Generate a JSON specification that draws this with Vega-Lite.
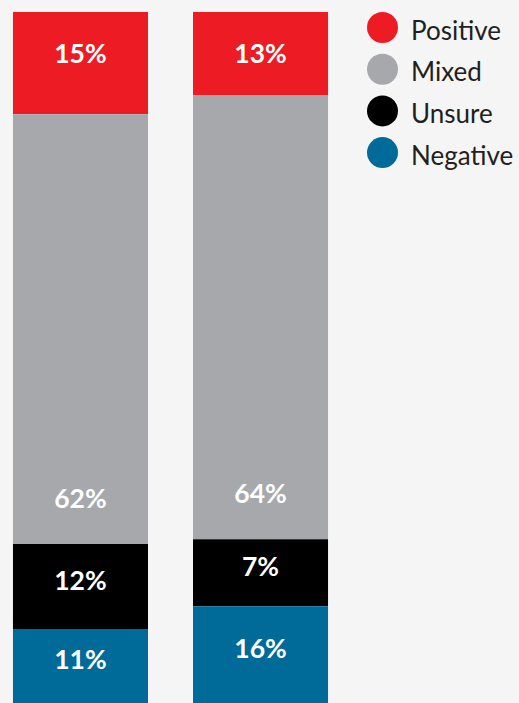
{
  "$schema": "https://vega.github.io/schema/vega-lite/v6.json",
  "autosize": {"type": "none"},
  "width": 519,
  "height": 691,
  "padding": {"top": 12, "left": 0, "right": 0, "bottom": 0},
  "background": "#f5f5f5",
  "config": {"view": {"stroke": null}, "font": "Lato"},
  "data": {
    "values": [
      {"group": "A", "type": "Positive", "value": 14.8, "label": "15%"},
      {"group": "A", "type": "Mixed", "value": 62.2, "label": "62%"},
      {"group": "A", "type": "Unsure", "value": 12.3, "label": "12%"},
      {"group": "A", "type": "Negative", "value": 10.7, "label": "11%"},
      {"group": "B", "type": "Positive", "value": 12.0, "label": "13%"},
      {"group": "B", "type": "Mixed", "value": 64.3, "label": "64%"},
      {"group": "B", "type": "Unsure", "value": 9.7, "label": "7%"},
      {"group": "B", "type": "Negative", "value": 14.0, "label": "16%"}
    ]
  },
  "transform": [
    {"calculate": "indexof(['Negative','Unsure','Mixed','Positive'], datum.type)", "as": "rank"},
    {"stack": "value", "groupby": ["group"], "sort": [{"field": "rank", "order": "ascending"}], "as": ["y0", "y1"]},
    {"calculate": "datum.type == 'Positive' ? datum.y1 - 6.2 : datum.type == 'Mixed' ? datum.y0 + 6.4 : (datum.y0 + datum.y1) / 2 + 0.7", "as": "ly"}
  ],
  "encoding": {
    "x": {"field": "group", "type": "nominal", "axis": null,
      "scale": {"range": [0, 341], "paddingInner": 0.25, "paddingOuter": 0.072}}
  },
  "layer": [
    {
      "mark": {"type": "bar"},
      "encoding": {
        "y": {"field": "y1", "type": "quantitative", "axis": null, "scale": {"domain": [0, 100], "nice": false, "zero": true}},
        "y2": {"field": "y0"},
        "color": {
          "field": "type", "type": "nominal",
          "scale": {"domain": ["Positive", "Mixed", "Unsure", "Negative"], "range": ["#ed1c24", "#a7a8ac", "#000000", "#006a99"]},
          "legend": {
            "title": null, "orient": "none", "legendX": 367, "legendY": 0, "padding": 0,
            "symbolType": "circle", "symbolSize": 961, "symbolStrokeWidth": 0, "symbolOpacity": 1,
            "labelFontSize": 26, "labelFont": "Lato", "labelColor": "#231f20", "labelOffset": 13,
            "rowPadding": 8.7, "labelLimit": 300,
            "encode": {"labels": {"update": {"dy": {"value": 4}}}}
          }
        }
      }
    },
    {
      "mark": {"type": "text", "color": "white", "fontSize": 26.5, "fontWeight": "bold", "font": "Lato", "baseline": "middle", "align": "center"},
      "encoding": {
        "y": {"field": "ly", "type": "quantitative"},
        "text": {"field": "label"}
      }
    }
  ]
}
